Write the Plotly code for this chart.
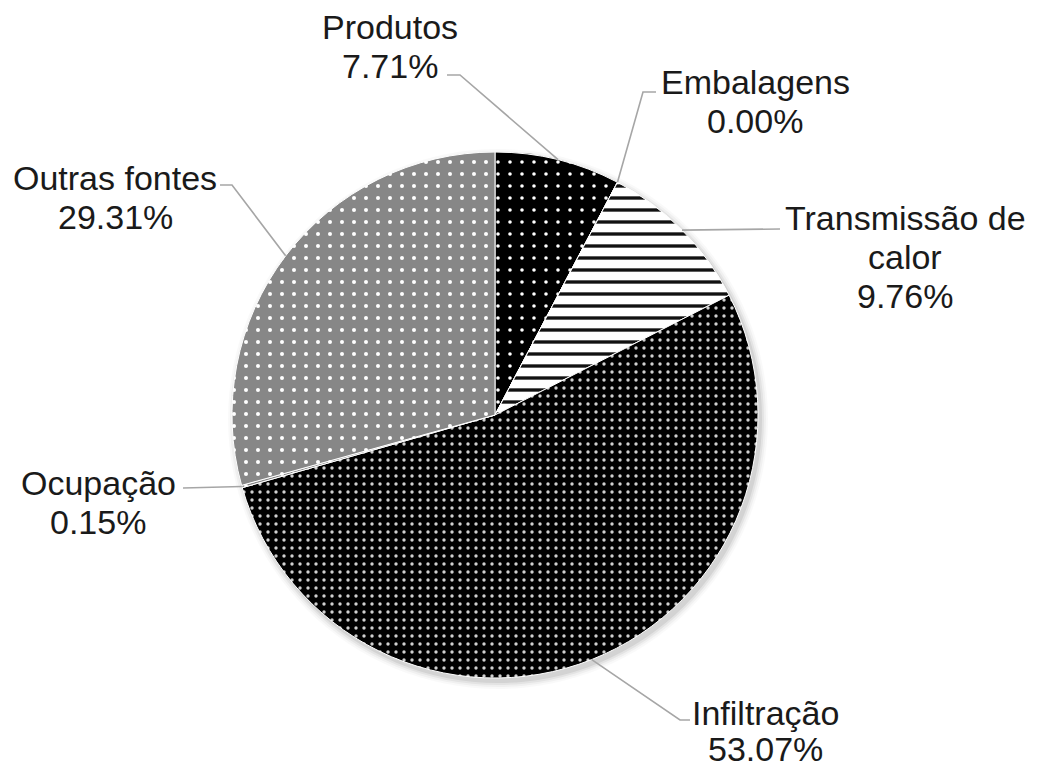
import math
import plotly.graph_objects as go

# Heat-load shares of the cold room (percent)
categories = ["Produtos", "Embalagens", "Transmissão de calor", "Infiltração", "Ocupação", "Outras fontes"]
shares = [7.71, 0.00, 9.76, 53.07, 0.15, 29.31]
label_lines = [
    ["Produtos", "7.71%"],
    ["Embalagens", "0.00%"],
    ["Transmissão de", "calor", "9.76%"],
    ["Infiltração", "53.07%"],
    ["Ocupação", "0.15%"],
    ["Outras fontes", "29.31%"],
]

W, H = 1037, 762
CX, CY, R = 495, 415, 263  # pie centre and radius in pixels

# Fill patterns per slice
patterns = [
    dict(shape=".", bgcolor="#000000", fgcolor="#ffffff", size=12, solidity=0.07),
    dict(shape="", bgcolor="#ffffff", fgcolor="#000000", size=12, solidity=0.3),
    dict(shape="-", bgcolor="#ffffff", fgcolor="#111111", size=12, solidity=0.28),
    dict(shape=".", bgcolor="#000000", fgcolor="#d0d0d0", size=8, solidity=0.14),
    dict(shape=".", bgcolor="#858585", fgcolor="#ffffff", size=12, solidity=0.08),
    dict(shape=".", bgcolor="#878787", fgcolor="#ffffff", size=12, solidity=0.09),
]
fill_colors = [p["bgcolor"] for p in patterns]


def px(x, y):
    return x / W, 1 - y / H


fig = go.Figure()
fig.add_trace(go.Pie(
    labels=categories,
    values=shares,
    sort=False,
    direction="clockwise",
    rotation=0,
    textinfo="none",
    hoverinfo="label+percent",
    marker=dict(
        colors=fill_colors,
        line=dict(color="#ffffff", width=1),
        pattern=dict(
            shape=[p["shape"] for p in patterns],
            bgcolor=[p["bgcolor"] for p in patterns],
            fgcolor=[p["fgcolor"] for p in patterns],
            size=[p["size"] for p in patterns],
            solidity=[p["solidity"] for p in patterns],
            fillmode="replace",
        ),
    ),
    domain=dict(x=[(CX - R) / W, (CX + R) / W], y=[1 - (CY + R) / H, 1 - (CY - R) / H]),
    showlegend=False,
))

# Soft drop shadow behind the pie
shapes = []
for k, alpha in [(7, 0.025), (5, 0.035), (3, 0.05), (1, 0.07)]:
    x0, y0 = px(CX - R - k + 3, CY - R - k + 4)
    x1, y1 = px(CX + R + k + 3, CY + R + k + 4)
    shapes.append(dict(type="circle", xref="paper", yref="paper", layer="below",
                       x0=x0, y0=y1, x1=x1, y1=y0,
                       fillcolor=f"rgba(0,0,0,{alpha})", line=dict(width=0)))

# Label layout: leader-line bend points, text centre (pixels) and line spacing
label_layout = [
    dict(path=[(460, 75), (447, 75)], text=(390, 27), gap=39),
    dict(path=[(643, 92), (656, 92)], text=(755, 82), gap=39),
    dict(path=[(780, 229)], text=(905, 218), gap=39),
    dict(path=[(680, 720), (690, 720)], text=(765, 713), gap=36),
    dict(path=[(183, 488)], text=(98, 483), gap=39),
    dict(path=[(232, 185), (220, 185)], text=(115, 178), gap=39),
]

total = sum(shares)
cum = 0.0
annotations = []
for val, lines, lay in zip(shares, label_lines, label_layout):
    mid = (cum + val / 2) / total * 2 * math.pi
    cum += val
    ex = CX + R * math.sin(mid)
    ey = CY - R * math.cos(mid)
    pts = [(ex, ey)] + lay["path"]
    d = "M " + " L ".join(f"{px(x, y)[0]:.5f},{px(x, y)[1]:.5f}" for x, y in pts)
    shapes.append(dict(type="path", xref="paper", yref="paper", path=d,
                       line=dict(color="#a6a6a6", width=1.6)))
    tx, ty = lay["text"]
    for i, line in enumerate(lines):
        x, y = px(tx, ty + i * lay["gap"])
        annotations.append(dict(x=x, y=y, xref="paper", yref="paper", text=line,
                                showarrow=False, xanchor="center", yanchor="middle",
                                font=dict(family="Liberation Sans, Arial, sans-serif",
                                          size=34, color="#1a1a1a")))

fig.update_layout(
    width=W, height=H,
    margin=dict(l=0, r=0, t=0, b=0),
    paper_bgcolor="#ffffff",
    plot_bgcolor="#ffffff",
    shapes=shapes,
    annotations=annotations,
)

fig.write_html("out.html")
